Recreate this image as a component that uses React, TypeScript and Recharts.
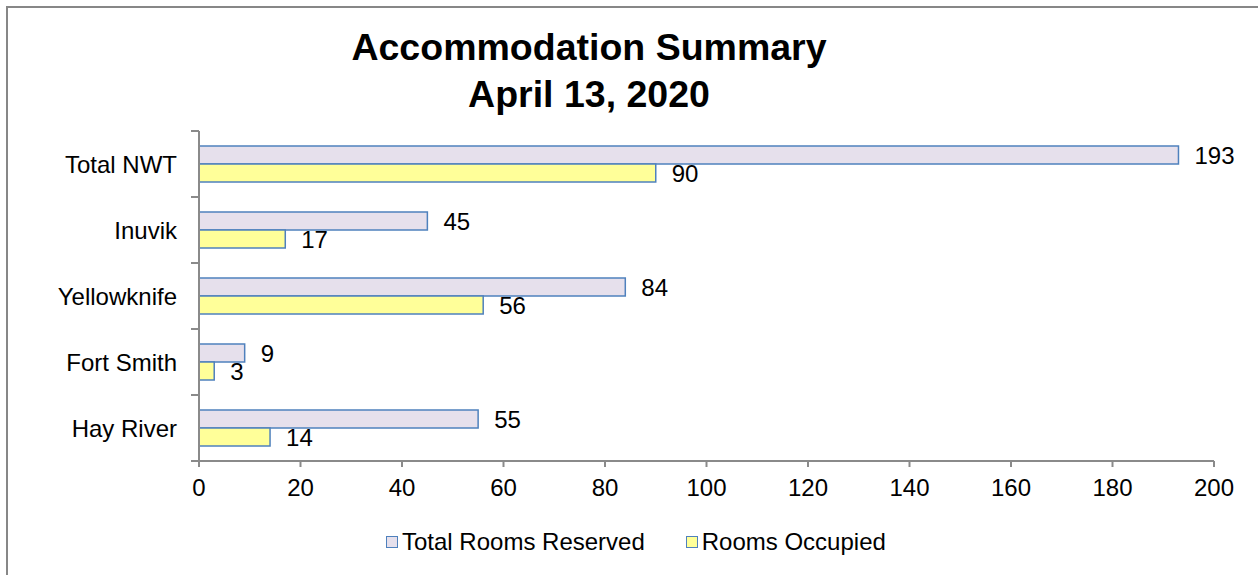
import React from 'react';
import { BarChart, Bar, XAxis, YAxis, LabelList } from 'recharts';

const communities = ['Total NWT', 'Inuvik', 'Yellowknife', 'Fort Smith', 'Hay River'];
const roomsReserved = [193, 45, 84, 9, 55];
const roomsOccupied = [90, 17, 56, 3, 14];
const xTicks = [0, 20, 40, 60, 80, 100, 120, 140, 160, 180, 200];

const series = [
  { key: 'reserved', name: 'Total Rooms Reserved', fill: '#E6E0EC' },
  { key: 'occupied', name: 'Rooms Occupied', fill: '#FFFF99' },
];

const data = communities.map((name, i) => ({
  name,
  reserved: roomsReserved[i],
  occupied: roomsOccupied[i],
}));

const FONT = '"Liberation Sans", Arial, sans-serif';
const FS = 24;
const AXIS_COLOR = '#8a8a8a';
const BAR_STROKE = '#4F81BD';

const W = 1258;
const H = 575;
const PLOT_LEFT = 199;
const PLOT_RIGHT = 1214;
const PLOT_TOP = 131;
const PLOT_BOTTOM = 461;
const Y_AXIS_W = 190;
const X_AXIS_H = 40;
const BAND = (PLOT_BOTTOM - PLOT_TOP) / communities.length;

// category ticks sit on the boundaries between categories, like Excel
const CategoryTick = (props: any) => {
  const { x, y, payload, index } = props;
  return (
    <g>
      <line x1={PLOT_LEFT - 8} x2={PLOT_LEFT} y1={y - BAND / 2} y2={y - BAND / 2} stroke={AXIS_COLOR} strokeWidth={2} />
      {index === communities.length - 1 && (
        <line x1={PLOT_LEFT - 8} x2={PLOT_LEFT} y1={y + BAND / 2} y2={y + BAND / 2} stroke={AXIS_COLOR} strokeWidth={2} />
      )}
      <text x={x} y={y} dy="0.355em" textAnchor="end" fill="#000" fontSize={FS} fontFamily={FONT}>
        {payload.value}
      </text>
    </g>
  );
};

const App: React.FC = () => {
  return (
    <div style={{ position: 'fixed', left: 0, top: 0, width: W, height: H, overflow: 'hidden', background: '#fff', fontFamily: FONT }}>
      <div style={{ position: 'absolute', left: 6, top: 6, width: 1300, height: 700, border: '2px solid #878787' }} />

      <div
        style={{
          position: 'absolute',
          left: 289,
          top: 24,
          width: 600,
          textAlign: 'center',
          fontSize: 37.5,
          fontWeight: 'bold',
          lineHeight: '47px',
          color: '#000',
        }}
      >
        <div>Accommodation Summary</div>
        <div>April 13, 2020</div>
      </div>

      <div style={{ position: 'absolute', left: 0, top: 0 }}>
        <BarChart
          width={W}
          height={H}
          data={data}
          layout="vertical"
          margin={{ top: PLOT_TOP, right: W - PLOT_RIGHT, bottom: H - PLOT_BOTTOM - X_AXIS_H, left: PLOT_LEFT - Y_AXIS_W }}
          barCategoryGap={15}
          barGap={0}
        >
          <XAxis
            type="number"
            domain={[0, 200]}
            ticks={xTicks}
            height={X_AXIS_H}
            axisLine={{ stroke: AXIS_COLOR, strokeWidth: 2 }}
            tickLine={{ stroke: AXIS_COLOR, strokeWidth: 2 }}
            tickSize={6}
            tickMargin={12}
            tick={{ fill: '#000', fontSize: FS, fontFamily: FONT }}
            interval={0}
          />
          <YAxis
            type="category"
            dataKey="name"
            width={Y_AXIS_W}
            axisLine={{ stroke: AXIS_COLOR, strokeWidth: 2 }}
            tickLine={false}
            tickSize={6}
            tickMargin={16}
            tick={<CategoryTick />}
            interval={0}
          />
          {series.map((s) => (
            <Bar
              key={s.key}
              dataKey={s.key}
              name={s.name}
              fill={s.fill}
              stroke={BAR_STROKE}
              strokeWidth={1.5}
              isAnimationActive={false}
            >
              <LabelList dataKey={s.key} position="right" offset={16} fill="#000" fontSize={FS} fontFamily={FONT} />
            </Bar>
          ))}
        </BarChart>
      </div>

      <div style={{ position: 'absolute', left: 386, top: 530, display: 'flex', alignItems: 'center', height: 24 }}>
        {series.map((s, i) => (
          <div key={s.key} style={{ display: 'flex', alignItems: 'center', marginLeft: i === 0 ? 0 : 41 }}>
            <span
              style={{
                display: 'inline-block',
                width: 10,
                height: 10,
                background: s.fill,
                border: `1.5px solid ${BAR_STROKE}`,
                marginRight: 4,
              }}
            />
            <span style={{ fontSize: FS, lineHeight: '24px', color: '#000' }}>{s.name}</span>
          </div>
        ))}
      </div>
    </div>
  );
};

export default App;
